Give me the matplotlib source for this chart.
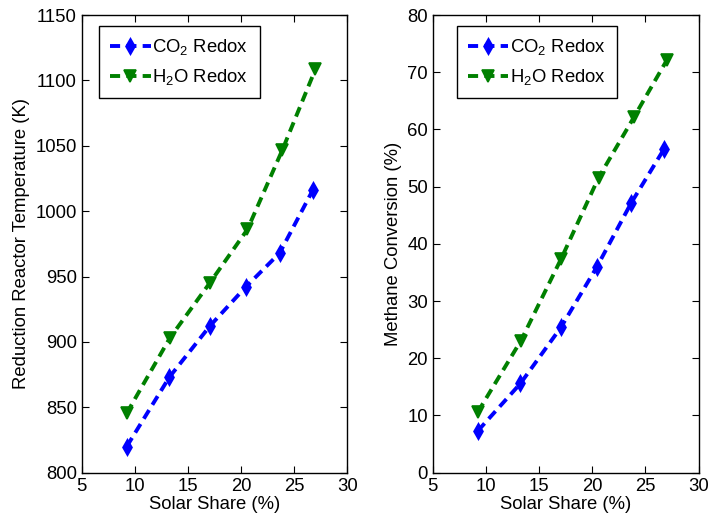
import matplotlib
matplotlib.use("Agg")
import matplotlib.pyplot as plt

plt.rcParams['font.family'] = ['Liberation Sans', 'DejaVu Sans']
plt.rcParams['mathtext.fontset'] = 'custom'
plt.rcParams['mathtext.rm'] = 'Liberation Sans'

# Solar share (%) for each point
share_co2 = [9.24, 13.25, 17.05, 20.44, 23.64, 26.75]
share_h2o = [9.24, 13.3, 17.05, 20.6, 23.9, 27.0]

# Reduction reactor temperature (K)
temp_co2 = [820, 873, 912, 942, 968, 1016]
temp_h2o = [845.5, 903, 945, 986, 1047, 1108.5]

# Methane conversion (%)
conv_co2 = [7.3, 15.6, 25.4, 36.0, 47.1, 56.6]
conv_h2o = [10.6, 23.1, 37.3, 51.6, 62.1, 72.1]

labels = ['CO$_2$ Redox', 'H$_2$O Redox']

fig = plt.figure(figsize=(7.12, 5.23), dpi=100)
ax1 = fig.add_axes([0.1147, 0.0962, 0.373, 0.875])
ax2 = fig.add_axes([0.6077, 0.0962, 0.3736, 0.875])

fs = 13.3
dash = (0, (2.6, 1.6))

def draw(ax, y_co2, y_h2o, ylim, yticks, ylabel, legx):
    ax.plot(share_co2, y_co2, linestyle=dash, color='blue', linewidth=2.8, marker='d',
            markersize=7, markeredgewidth=1.8, label=labels[0])
    ax.plot(share_h2o, y_h2o, linestyle=dash, color='green', linewidth=2.8, marker='v',
            markersize=8, markeredgewidth=1.2, label=labels[1])
    ax.set_xlim(5, 30)
    ax.set_ylim(*ylim)
    ax.set_xticks([5, 10, 15, 20, 25, 30])
    ax.set_yticks(yticks)
    ax.tick_params(direction='in', top=True, right=True, labelsize=fs, length=5)
    ax.set_xlabel('Solar Share (%)', fontsize=fs, labelpad=1)
    ax.set_ylabel(ylabel, fontsize=fs, labelpad=4)
    for s in ax.spines.values():
        s.set_linewidth(1.0)
    leg = ax.legend(loc='upper left', fontsize=fs, fancybox=False, framealpha=1,
                    edgecolor='black', handlelength=2.2, borderpad=0.6,
                    bbox_to_anchor=(legx, 0.976), borderaxespad=0,
                    handletextpad=0.1, labelspacing=0.55)
    leg.get_frame().set_linewidth(1.0)

draw(ax1, temp_co2, temp_h2o, (800, 1150), range(800, 1151, 50),
     'Reduction Reactor Temperature (K)', 0.065)
draw(ax2, conv_co2, conv_h2o, (0, 80), range(0, 81, 10),
     'Methane Conversion (%)', 0.09)

fig.savefig('out.png', dpi=100)
